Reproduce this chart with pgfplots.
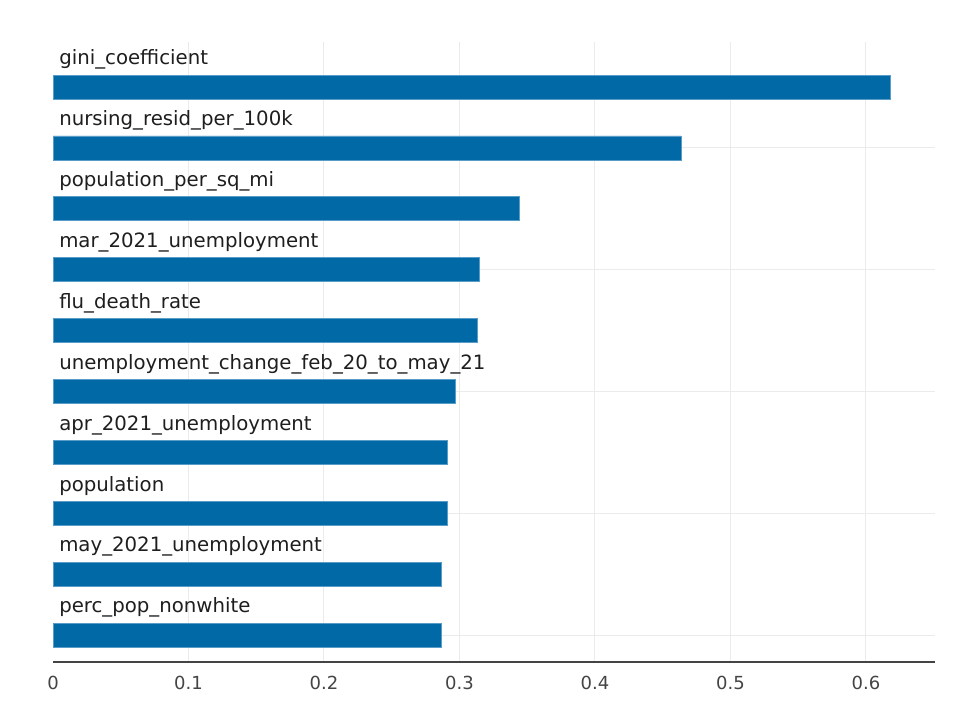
\documentclass[border=0pt]{standalone}
\usepackage{pgfplots}
\pgfplotsset{compat=1.18}
\usepackage{fontspec}
\setmainfont{DejaVu Sans}
\definecolor{barblue}{HTML}{0069A6}
\definecolor{baredge}{HTML}{5A9CC8}
\definecolor{gridc}{HTML}{EBEBEB}
\definecolor{tickc}{HTML}{444444}
\definecolor{labc}{HTML}{1E1E1E}
\begin{document}
\begin{tikzpicture}
\useasboundingbox (-39.75pt,-34.5pt) rectangle (693pt,496.5pt);
\begin{axis}[
  at={(0,0)}, anchor=south west,
  scale only axis,
  width=661.5pt, height=465pt,
  xmin=0, xmax=0.651,
  ymin=-0.443, ymax=9.74,
  xbar, bar width=18pt,
  axis x line*=bottom, axis y line*=left,
  x axis line style={draw=tickc, line width=0.9pt, -},
  y axis line style={draw=none},
  xtick={0,0.1,0.2,0.3,0.4,0.5,0.6},
  xticklabels={0,0.1,0.2,0.3,0.4,0.5,0.6},
  minor xtick={0.1,0.2,0.3,0.4,0.5,0.6},
  minor x grid style={draw=gridc, line width=0.75pt},
  xminorgrids,
  ytick={0,2,4,6,8}, yticklabels={},
  ymajorgrids,
  y grid style={draw=gridc, line width=0.75pt},
  major tick length=0pt, minor tick length=0pt,
  tick style={draw=none},
  /pgf/number format/assume math mode=true,
  xticklabel style={font=\fontsize{13.5}{16}\selectfont, text=tickc, yshift=-7pt},
  clip=false,
]
\addplot[fill=barblue, draw=baredge, line width=0.6pt] coordinates {
  (0.287,0) (0.287,1) (0.291,2) (0.291,3) (0.297,4)
  (0.313,5) (0.315,6) (0.344,7) (0.4635,8) (0.618,9)
};
\begin{scope}[every node/.style={anchor=west, font=\fontsize{14.8}{18}\selectfont, text=labc, inner sep=0pt}]
\node at (axis cs:0,0.45) [xshift=4.5pt] {perc\_pop\_nonwhite};
\node at (axis cs:0,1.45) [xshift=4.5pt] {may\_2021\_unemployment};
\node at (axis cs:0,2.45) [xshift=4.5pt] {population};
\node at (axis cs:0,3.45) [xshift=4.5pt] {apr\_2021\_unemployment};
\node at (axis cs:0,4.45) [xshift=4.5pt] {unemployment\_change\_feb\_20\_to\_may\_21};
\node at (axis cs:0,5.45) [xshift=4.5pt] {flu\_death\_rate};
\node at (axis cs:0,6.45) [xshift=4.5pt] {mar\_2021\_unemployment};
\node at (axis cs:0,7.45) [xshift=4.5pt] {population\_per\_sq\_mi};
\node at (axis cs:0,8.45) [xshift=4.5pt] {nursing\_resid\_per\_100k};
\node at (axis cs:0,9.45) [xshift=4.5pt] {gini\_coefficient};
\end{scope}
\end{axis}
\end{tikzpicture}
\end{document}
